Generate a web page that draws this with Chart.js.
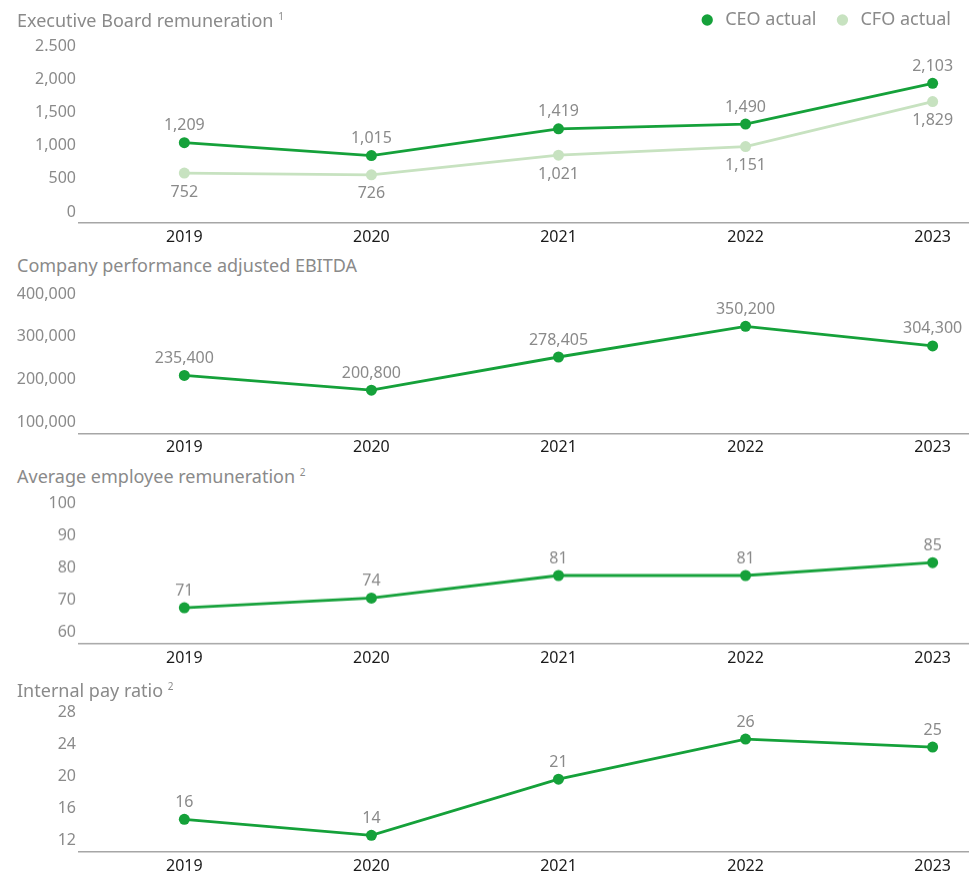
<!DOCTYPE html>
<html>
<head>
<meta charset="utf-8">
<script src="https://cdn.jsdelivr.net/npm/chart.js@4.4.0/dist/chart.umd.min.js"></script>
<style>
  html, body { margin: 0; padding: 0; background: #fff; overflow: hidden; }
  body { width: 977px; height: 874px; position: relative; font-family: "Noto Sans", sans-serif; }
  .title { position: absolute; left: 17px; color: #8a8a8a; font-size: 18px; line-height: 20px; white-space: nowrap; z-index: 2; }
  .title sup { font-size: 10px; vertical-align: 7px; line-height: 0; }
  .box { position: absolute; left: 0; width: 977px; }
</style>
</head>
<body>
<div class="title" style="top:10px">Executive Board remuneration <sup>1</sup></div>
<div class="title" style="top:255px">Company performance adjusted EBITDA</div>
<div class="title" style="top:466px">Average employee remuneration <sup>2</sup></div>
<div class="title" style="top:680px">Internal pay ratio <sup>2</sup></div>

<div class="box" id="box1"><canvas id="chart1"></canvas></div>
<div class="box" id="box2"><canvas id="chart2"></canvas></div>
<div class="box" id="box3"><canvas id="chart3"></canvas></div>
<div class="box" id="box4"><canvas id="chart4"></canvas></div>

<script>
// data
var years = [2019, 2020, 2021, 2022, 2023];
var ceoActual = [1209, 1015, 1419, 1490, 2103];
var cfoActual = [752, 726, 1021, 1151, 1829];
var ebitda = [235400, 200800, 278405, 350200, 304300];
var avgEmployee = [71, 74, 81, 81, 85];
var payRatio = [16, 14, 21, 26, 25];

// y tick labels (as printed)
var boardTicks = ["0", "500", "1,000", "1,500", "2,000", "2.500"];
var ebitdaTicks = ["100,000", "200,000", "300,000", "400,000"];
var employeeTicks = ["60", "70", "80", "90", "100"];
var ratioTicks = ["12", "16", "20", "24", "28"];

var green = "#15a13a";
var lightGreen = "#c7e2c0";
var grey = "#8a8a8a";

Chart.defaults.font.family = '"Noto Sans", sans-serif';
Chart.defaults.animation = false;

function pts(vals) {
    return years.map((yr, i) => ({ x: yr, y: vals[i] }));
}

// value labels above / below points
var pointLabels = {
    id: 'pointLabels',
    afterDatasetsDraw(chart) {
        const ctx = chart.ctx;
        ctx.save();
        ctx.font = '16px "Noto Sans", sans-serif';
        ctx.fillStyle = grey;
        ctx.textAlign = 'center';
        ctx.textBaseline = 'middle';
        chart.data.datasets.forEach((ds, i) => {
            chart.getDatasetMeta(i).data.forEach((pt, j) => {
                const dy = ds.labelPos == 'below' ? 19 : -17;
                ctx.fillText(ds.data[j].y.toLocaleString('en-US'), pt.x, pt.y + dy);
            });
        });
        ctx.restore();
    }
};

// legend takes the whole space above the plot
var legendTop = -6;
var legendHeight = 63;
var legendSpace = {
    id: 'legendSpace',
    beforeInit(chart) {
        if (!chart.legend) return;
        const fit = chart.legend.fit;
        chart.legend.fit = function () {
            fit.call(this);
            this.height = legendHeight;
        };
    }
};

function line(label, vals, color, pos) {
    return {
        label: label,
        data: pts(vals),
        borderColor: color,
        backgroundColor: color,
        pointBackgroundColor: color,
        borderWidth: 2.8,
        pointRadius: 5.5,
        pointBorderWidth: 0,
        pointHoverRadius: 5.5,
        tension: 0,
        labelPos: pos
    };
}

function makeChart(boxId, canvasId, datasets, yMin, yMax, yStep, tickLabels, areaTop, areaBottom, showLegend) {
    var padTop = showLegend ? legendTop : 25;
    var boxTop = showLegend ? areaTop - legendHeight - legendTop : areaTop - padTop;
    var box = document.getElementById(boxId);
    box.style.top = boxTop + 'px';
    box.style.height = (areaBottom - boxTop + 24) + 'px';

    return new Chart(document.getElementById(canvasId), {
        type: 'line',
        data: { datasets: datasets },
        plugins: showLegend ? [pointLabels, legendSpace] : [pointLabels],
        options: {
            responsive: true,
            maintainAspectRatio: false,
            layout: { padding: { top: padTop, right: 9, left: 0, bottom: 0 } },
            plugins: {
                legend: {
                    display: showLegend,
                    align: 'end',
                    labels: {
                        usePointStyle: true,
                        pointStyle: 'circle',
                        boxWidth: 18,
                        boxHeight: 8,
                        padding: 17,
                        color: grey,
                        font: { size: 18 }
                    }
                },
                tooltip: { enabled: false }
            },
            scales: {
                x: {
                    type: 'linear',
                    min: years[0] - 0.563,
                    max: years[years.length - 1] + 0.189,
                    afterBuildTicks: s => { s.ticks = years.map(v => ({ value: v })); },
                    afterFit: s => { s.height = 24; },
                    grid: { display: false, drawTicks: false },
                    border: { display: true, color: '#a6a6a6', width: 1.5 },
                    ticks: {
                        autoSkip: false,
                        maxRotation: 0,
                        padding: 5,
                        color: '#1a1a1a',
                        font: { size: 16 },
                        callback: v => String(v)
                    }
                },
                y: {
                    min: yMin,
                    max: yMax,
                    afterFit: s => { s.width = 79; },
                    grid: { display: false, drawTicks: false },
                    border: { display: false },
                    ticks: {
                        stepSize: yStep,
                        autoSkip: false,
                        padding: 3,
                        labelOffset: -11,
                        color: grey,
                        font: { size: 16 },
                        callback: (v, i) => tickLabels[i]
                    }
                }
            }
        }
    });
}

makeChart('box1', 'chart1',
    [line('CEO actual', ceoActual, green, 'above'), line('CFO actual', cfoActual, lightGreen, 'below')],
    0, 2500, 500, boardTicks, 57, 223, true);

makeChart('box2', 'chart2',
    [line('Adjusted EBITDA', ebitda, green, 'above')],
    100000, 400000, 100000, ebitdaTicks, 305, 433.3, false);

makeChart('box3', 'chart3',
    [line('Average employee remuneration', avgEmployee, green, 'above')],
    60, 100, 10, employeeTicks, 514.3, 642.7, false);

makeChart('box4', 'chart4',
    [line('Internal pay ratio', payRatio, green, 'above')],
    12, 28, 4, ratioTicks, 722.6, 851, false);
</script>
</body>
</html>
